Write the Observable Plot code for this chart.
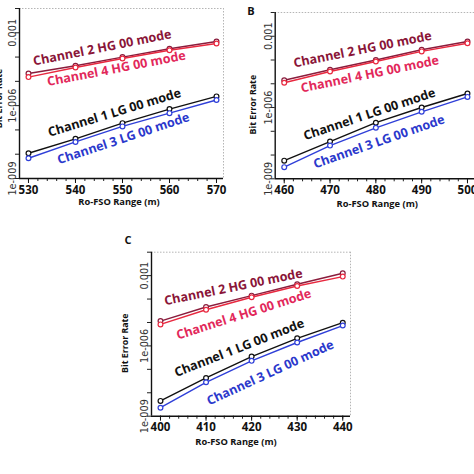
<!DOCTYPE html>
<html><head><meta charset="utf-8">
<script src="https://cdn.jsdelivr.net/npm/d3@7"></script>
<script src="https://cdn.jsdelivr.net/npm/@observablehq/plot@0.6"></script>
<style>
html,body{margin:0;padding:0;background:#fff;}
#wrap{position:relative;width:474px;height:474px;overflow:hidden;background:#fff;}
#wrap svg{position:absolute;background:transparent;}
</style></head><body><div id="wrap"></div>
<script>
// ---------- data ----------
const seriesNames = ["Channel 2 HG 00 mode", "Channel 4 HG 00 mode", "Channel 1 LG 00 mode", "Channel 3 LG 00 mode"];
const yTickValues = [1e-3, 1e-6, 1e-9];
const yTickLabels = ["0.001", "1e-006", "1e-009"];
const yDecades = [1e-2, 1e-3, 1e-4, 1e-5, 1e-6, 1e-7, 1e-8, 1e-9];

const rangeA = [530, 540, 550, 560, 570];
const ch2A = [2.1e-5, 4.4e-5, 1.0e-4, 2.2e-4, 4.4e-4];
const ch4A = [1.5e-5, 3.7e-5, 8.7e-5, 1.9e-4, 3.6e-4];
const ch1A = [1.1e-8, 4.3e-8, 1.9e-7, 7.2e-7, 2.4e-6];
const ch3A = [6.8e-9, 3.2e-8, 1.4e-7, 4.9e-7, 1.7e-6];

const rangeB = [460, 470, 480, 490, 500];
const ch2B = [1.4e-5, 3.9e-5, 1.0e-4, 2.7e-4, 6.0e-4];
const ch4B = [1.1e-5, 3.3e-5, 8.7e-5, 2.3e-4, 5.1e-4];
const ch1B = [5.8e-9, 3.7e-8, 2.3e-7, 1.0e-6, 3.9e-6];
const ch3B = [3.1e-9, 2.5e-8, 1.4e-7, 6.6e-7, 2.8e-6];

const rangeC = [400, 410, 420, 430, 440];
const ch2C = [1.15e-5, 4.6e-5, 1.4e-4, 4.3e-4, 1.26e-3];
const ch4C = [8.3e-6, 3.5e-5, 1.2e-4, 3.6e-4, 9.1e-4];
const ch1C = [4.5e-9, 4.3e-8, 3.5e-7, 2.1e-6, 9.8e-6];
const ch3C = [2.3e-9, 2.8e-8, 2.3e-7, 1.4e-6, 7.4e-6];

// label anchor points (data units) and angles
const labelXA = [545.7, 548.7, 548.3, 550.2];
const labelYA = [2.4e-4, 3.3e-5, 5.1e-7, 4.4e-8];
const labelRotA = [-11.3, -10.9, -16.9, -18.4];
const labelXB = [477.1, 478.7, 478.6, 480.7];
const labelYB = [2.75e-4, 2.5e-5, 5.2e-7, 3.6e-8];
const labelRotB = [-11.4, -11.6, -18.6, -19.3];
const labelXC = [416, 418.3, 417.3, 424.1];
const labelYC = [3.2e-4, 2.2e-5, 8.1e-7, 7.1e-8];
const labelRotC = [-11.5, -17.6, -21.4, -24.7];

// ---------- style ----------
const lineColors = ["#8a1c3c", "#e8283f", "#111111", "#2f3fd8"];
const textColors = ["#8a1538", "#e2285a", "#111111", "#2b38cc"];
const sans = "'Open Sans', Roboto, sans-serif";

function panel(cfg) {
  const {ranges, series, lx, ly, lrot, xDom, width, height, margins, left, top, yTitle, xTitle, letter} = cfg;
  const minor = d3.range(ranges[0] - 2, ranges[ranges.length - 1] + 3, 2).filter(v => v > xDom[0] && v < xDom[1]);
  const marks = [
    Plot.ruleY([1e-2], {stroke: "#b5b5b5", strokeDasharray: "1.5,1.5"}),
    Plot.ruleX([xDom[1]], {stroke: "#b5b5b5", strokeDasharray: "1.5,1.5"}),
    Plot.axisY({ticks: yDecades, tickSize: 4, tickFormat: () => "", stroke: "#222", label: null}),
    Plot.axisX({ticks: minor, tickSize: 3, tickFormat: () => "", stroke: "#222", label: null}),
    Plot.axisX({ticks: ranges, tickSize: 5, tickPadding: 2, tickFormat: d => String(d), stroke: "#111", fill: "#111",
      fontFamily: sans, fontSize: 11.5, fontWeight: "bold", label: null}),
    Plot.text(yTickValues, {y: d => d, frameAnchor: "left", dx: -6.5, rotate: -90, text: (d, i) => yTickLabels[i],
      textAnchor: "middle", lineAnchor: "middle", fontFamily: "'DejaVu Sans', sans-serif", fontSize: 9.7, fill: "#333"}),
    Plot.ruleX([xDom[0]], {stroke: "#111", strokeWidth: 1.4}),
    Plot.ruleY([1e-9], {stroke: "#111", strokeWidth: 1.4}),
    Plot.text([yTitle.text], {frameAnchor: "left", dx: yTitle.dx, dy: yTitle.dy, rotate: -90, textAnchor: "middle",
      lineAnchor: "middle", fontFamily: sans, fontWeight: "bold", fontSize: 8.8, fill: "#111"}),
    Plot.text([xTitle.text], {frameAnchor: "bottom", dx: xTitle.dx, dy: xTitle.dy, textAnchor: "middle",
      lineAnchor: "middle", fontFamily: sans, fontWeight: "bold", fontSize: 9.3, fill: "#111"})
  ];
  if (letter) {
    marks.push(Plot.text([letter.text], {frameAnchor: "top-left", dx: letter.dx, dy: letter.dy, textAnchor: "middle",
      lineAnchor: "middle", fontFamily: sans, fontWeight: "bold", fontSize: 11, fill: "#111"}));
  }
  series.forEach((vals, k) => {
    const rows = ranges.map((x, i) => ({x, y: vals[i]}));
    marks.push(Plot.line(rows, {x: "x", y: "y", stroke: lineColors[k], strokeWidth: 1.4}));
    marks.push(Plot.dot(rows, {x: "x", y: "y", r: 2.4, fill: "white", stroke: lineColors[k], strokeWidth: 1.2}));
  });
  series.forEach((vals, k) => {
    marks.push(Plot.text([seriesNames[k]], {x: () => lx[k], y: () => ly[k], rotate: lrot[k], textAnchor: "middle",
      lineAnchor: "middle", fontFamily: sans, fontWeight: "bold", fontSize: 12.6, fill: textColors[k]}));
  });
  const svg = Plot.plot({
    width, height,
    marginTop: margins[0], marginRight: margins[1], marginBottom: margins[2], marginLeft: margins[3],
    x: {domain: xDom, label: null},
    y: {type: "log", domain: [1e-9, 1e-2], label: null},
    style: {background: "transparent", overflow: "visible"},
    marks
  });
  svg.style.left = left + "px";
  svg.style.top = top + "px";
  document.getElementById("wrap").appendChild(svg);
}

panel({
  ranges: rangeA, series: [ch2A, ch4A, ch1A, ch3A], lx: labelXA, ly: labelYA, lrot: labelRotA,
  xDom: [528.09, 571.49], width: 237, height: 215, margins: [8, 14, 37, 19], left: 0, top: 0,
  yTitle: {text: "Bit Error Rate", dx: -20, dy: 5}, xTitle: {text: "Ro-FSO Range (m)", dx: -2.5, dy: 24}
});
panel({
  ranges: rangeB, series: [ch2B, ch4B, ch1B, ch3B], lx: labelXB, ly: labelYB, lrot: labelRotB,
  xDom: [458.03, 501.97], width: 245, height: 215, margins: [12, 6, 36.7, 37.7], left: 237, top: 0,
  yTitle: {text: "Bit Error Rate", dx: -22, dy: 9}, xTitle: {text: "Ro-FSO Range (m)", dx: 1.4, dy: 25},
  letter: {text: "B", dx: -24.2, dy: -1}
});
panel({
  ranges: rangeC, series: [ch2C, ch4C, ch1C, ch3C], lx: labelXC, ly: labelYC, lrot: labelRotC,
  xDom: [398.03, 441.7], width: 260, height: 244, margins: [21.7, 20, 58.3, 41], left: 110, top: 230,
  yTitle: {text: "Bit Error Rate", dx: -26, dy: 9}, xTitle: {text: "Ro-FSO Range (m)", dx: -15, dy: 26},
  letter: {text: "C", dx: -23.5, dy: -11.7}
});
</script></body></html>
